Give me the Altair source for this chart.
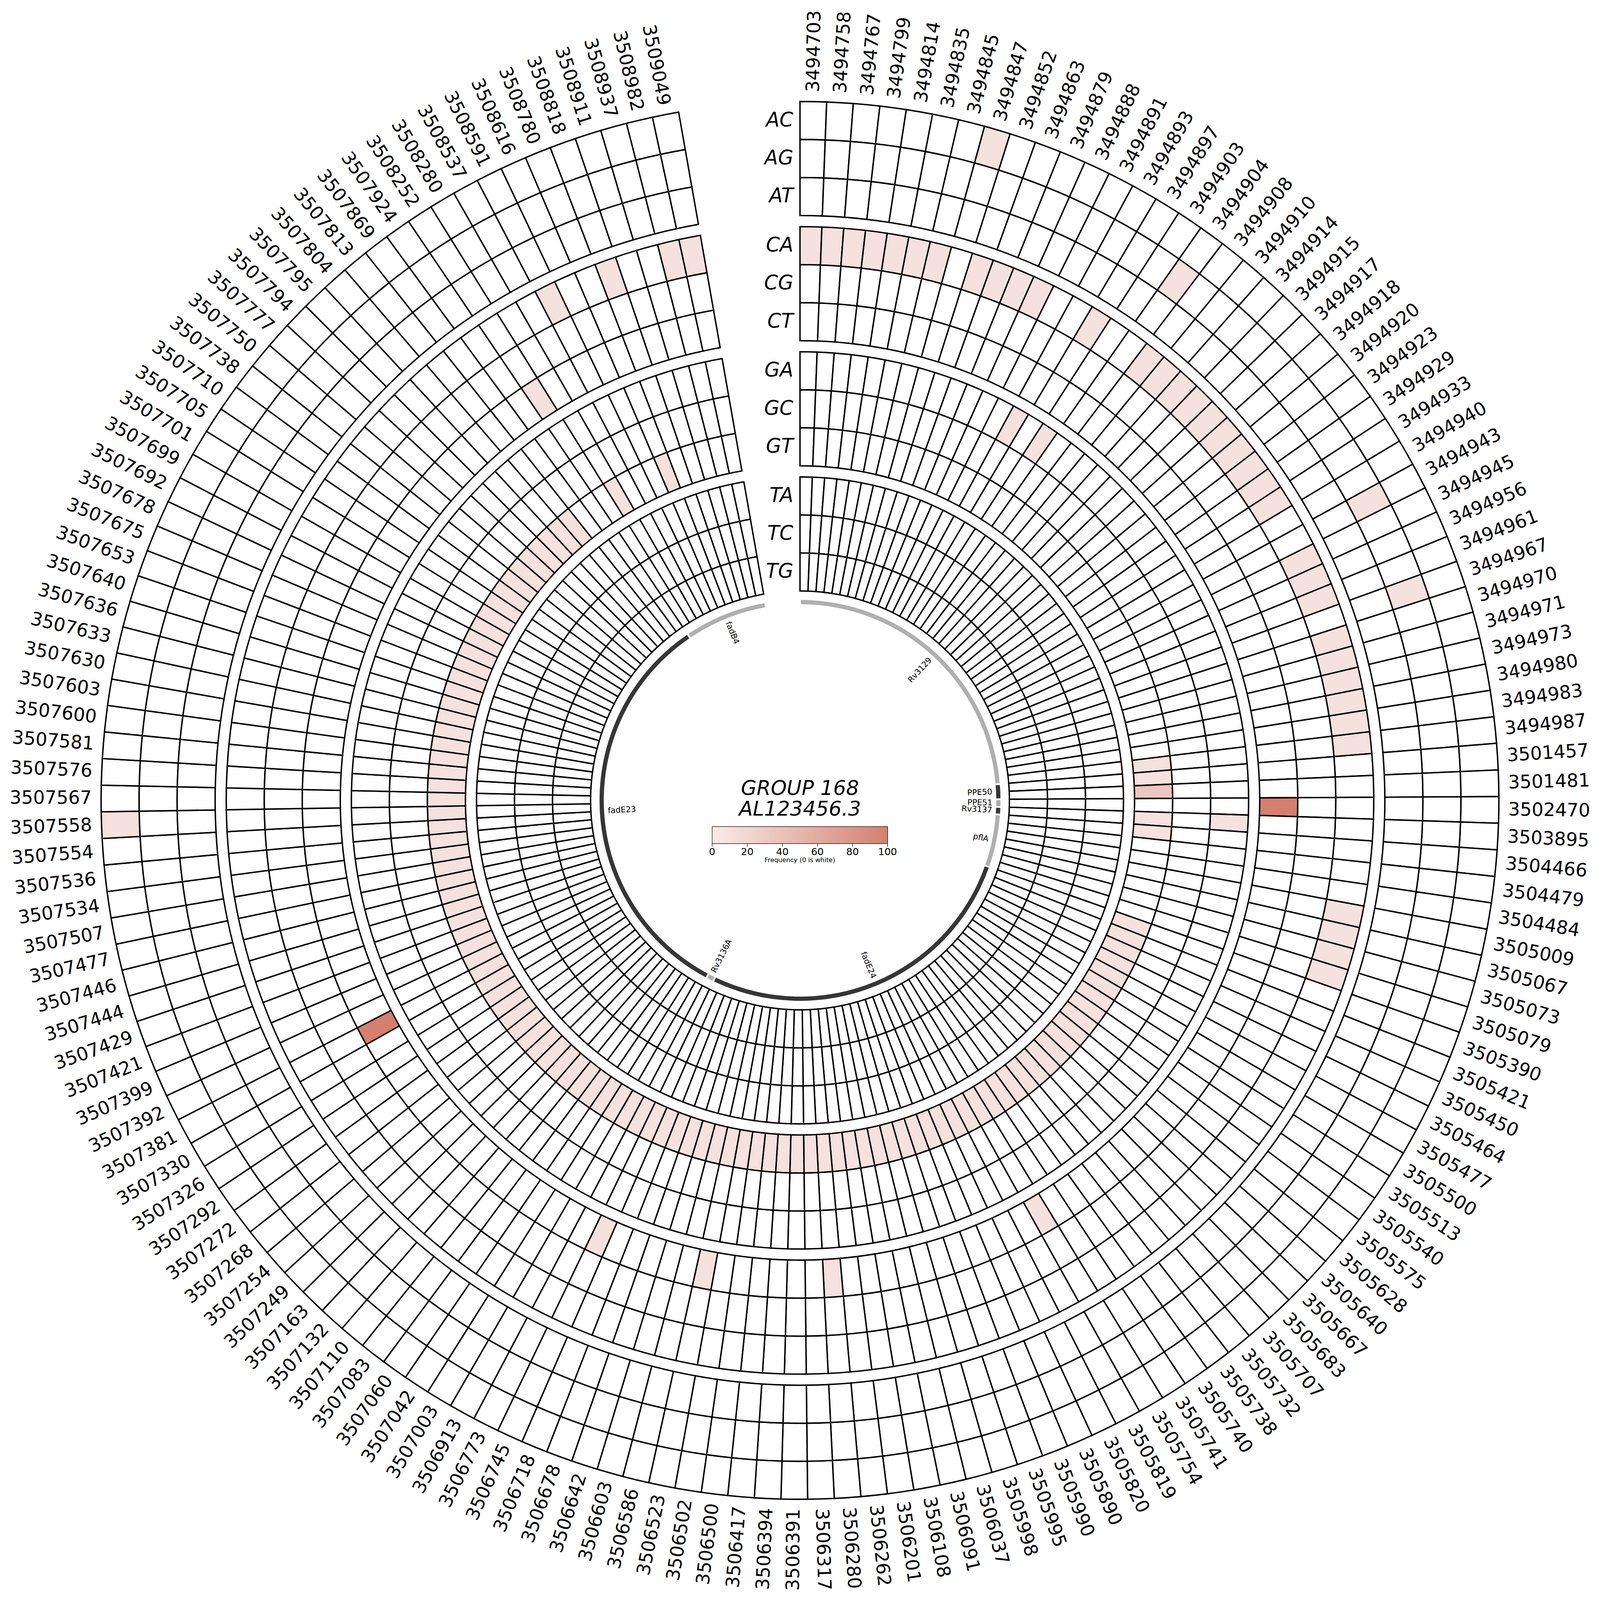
import math
import altair as alt
import pandas as pd

# ---------------- data ----------------
positions = [
    3494703, 3494758, 3494767, 3494799, 3494814, 3494835, 3494845, 3494847, 3494852, 3494863,
    3494879, 3494888, 3494891, 3494893, 3494897, 3494903, 3494904, 3494908, 3494910, 3494914,
    3494915, 3494917, 3494918, 3494920, 3494923, 3494929, 3494933, 3494940, 3494943, 3494945,
    3494956, 3494961, 3494967, 3494970, 3494971, 3494973, 3494980, 3494983, 3494987, 3501457,
    3501481, 3502470, 3503895, 3504466, 3504479, 3504484, 3505009, 3505067, 3505073, 3505079,
    3505390, 3505421, 3505450, 3505464, 3505477, 3505500, 3505513, 3505540, 3505575, 3505628,
    3505640, 3505667, 3505683, 3505707, 3505732, 3505738, 3505740, 3505741, 3505754, 3505819,
    3505820, 3505890, 3505990, 3505995, 3505998, 3506037, 3506091, 3506108, 3506201, 3506262,
    3506280, 3506317, 3506391, 3506394, 3506417, 3506500, 3506502, 3506523, 3506586, 3506603,
    3506642, 3506678, 3506718, 3506745, 3506773, 3506913, 3507003, 3507042, 3507060, 3507083,
    3507110, 3507132, 3507163, 3507249, 3507254, 3507268, 3507272, 3507292, 3507326, 3507330,
    3507381, 3507392, 3507399, 3507421, 3507429, 3507444, 3507446, 3507477, 3507507, 3507534,
    3507536, 3507554, 3507558, 3507567, 3507576, 3507581, 3507600, 3507603, 3507630, 3507633,
    3507636, 3507640, 3507653, 3507675, 3507678, 3507692, 3507699, 3507701, 3507705, 3507710,
    3507738, 3507750, 3507777, 3507794, 3507795, 3507804, 3507813, 3507869, 3507924, 3508252,
    3508280, 3508537, 3508591, 3508616, 3508780, 3508818, 3508911, 3508937, 3508982, 3509049,
]

rows = ["AC", "AG", "AT", "CA", "CG", "CT", "GA", "GC", "GT", "TA", "TC", "TG"]

# non-zero frequencies (column index into positions -> frequency %)
AC_cols = [7, 122]
AC_vals = [10, 10]
AG_cols = [16, 28, 32]
AG_vals = [10, 10, 10]
CA_cols = ([0, 1, 2, 3, 4, 5, 6, 8, 9, 10, 11, 14] + list(range(17, 27)) + [29, 30, 31]
           + list(range(33, 39)) + [46, 47, 48, 49, 152, 155, 158, 159])
CA_vals = [10] * len(CA_cols)
CT_cols = [41, 68, 80, 87, 93, 110, 149]
CT_vals = [100, 10, 10, 10, 10, 100, 10]
GA_cols = [13, 15, 42]
GA_vals = [10, 10, 10]
GT_cols = [38, 39, 40, 42, 43] + list(range(50, 147)) + [150, 154]
GT_vals = [10, 10, 35, 10, 10] + [10] * 97 + [10, 10]

nonzero = {
    "AC": (AC_cols, AC_vals), "AG": (AG_cols, AG_vals), "CA": (CA_cols, CA_vals),
    "CT": (CT_cols, CT_vals), "GA": (GA_cols, GA_vals), "GT": (GT_cols, GT_vals),
}

genes = ["Rv3129", "PPE50", "PPE51", "Rv3137", "pflA", "fadE24", "Rv3136A", "fadE23", "fadB4"]
gene_first = [0, 39, 41, 42, 43, 50, 94, 95, 149]
gene_last = [38, 40, 41, 42, 49, 93, 94, 148, 159]
gene_shade = ["light", "dark", "light", "dark", "light", "dark", "light", "dark", "light"]

cbar_ticks = [0, 20, 40, 60, 80, 100]

# ---------------- layout ----------------
N = len(positions)
SPAN_DEG = 350.0
SPAN_RAD = SPAN_DEG * math.pi / 180.0
W = 6750
C = W / 2
ROW_H = 161.0
RING_OUTER = {"A": 2960.0, "C": 2430.0, "G": 1900.0, "T": 1370.0}
LABEL_R = 3000.0
GENE_R0, GENE_R1 = 831.0, 849.0
GENE_LABEL_R = 815.0
GENE_PAD = 0.12
CELL_STROKE = 6
CBAR_X0, CBAR_X1 = 3003.0, 3746.0
SHIFT = 2207  # compensates the vertical offset observed in the rendered page

theta_scale = alt.Scale(domain=[0, N], range=[0, SPAN_RAD])
rad_scale = alt.Scale(type="linear", domain=[0, C], range=[0, C], zero=True)
px_scale = alt.Scale(domain=[0, W], range=[0, W], zero=False, nice=False)


def row_radii(name):
    j = [c for c in "ACGT" if c != name[0]].index(name[1])
    outer = RING_OUTER[name[0]] - j * ROW_H
    return outer - ROW_H, outer


cells = []
for rname in rows:
    r0, r1 = row_radii(rname)
    cols, vals = nonzero.get(rname, ([], []))
    fmap = dict(zip(cols, vals))
    for i in range(N):
        cells.append({"row": rname, "t0": i, "t1": i + 1, "r0": r0, "r1": r1,
                      "freq": fmap.get(i, 0)})
cells_df = pd.DataFrame(cells)


def text_angle(deg):
    return (deg - 90) % 360 if deg < 180 else (deg + 90) % 360


lab_df = pd.DataFrame([
    {"tc": i + 0.5, "rl": LABEL_R, "ang": text_angle((i + 0.5) * SPAN_DEG / N), "label": str(p),
     "side": "R" if (i + 0.5) * SPAN_DEG / N < 180 else "L"}
    for i, p in enumerate(positions)
])

gdf = []
for g, a, b, s in zip(genes, gene_first, gene_last, gene_shade):
    mid = (a + b + 1) / 2
    deg = mid * SPAN_DEG / N
    gdf.append({"gene": g, "g0": a + GENE_PAD, "g1": b + 1 - GENE_PAD, "r0": GENE_R0, "r1": GENE_R1,
                "shade": s, "tc": mid, "rl": GENE_LABEL_R, "ang": text_angle(deg),
                "side": "R" if deg < 180 else "L"})
gene_df = pd.DataFrame(gdf)

rowlab_df = pd.DataFrame([{"row": r, "tc": 0, "rl": sum(row_radii(r)) / 2} for r in rows])

polar_x = f"{C} + datum.rl * sin(datum.tc / {N} * {SPAN_RAD})"
polar_y = f"{C} - datum.rl * cos(datum.tc / {N} * {SPAN_RAD})"


def polar_text(df, **mark_kw):
    return alt.Chart(df).transform_calculate(px=polar_x, py=polar_y).mark_text(**mark_kw).encode(
        x=alt.X("px:Q", scale=px_scale, axis=None),
        y=alt.Y("py:Q", scale=px_scale, axis=None),
    )


# ---------------- layers ----------------
base_cells = alt.Chart(cells_df).mark_arc(stroke="black", strokeWidth=CELL_STROKE).encode(
    theta=alt.Theta("t0:Q", scale=theta_scale),
    theta2="t1:Q",
    radius=alt.Radius("r0:Q", scale=rad_scale),
    radius2="r1:Q",
    color=alt.when(alt.datum.freq > 0).then(
        alt.Color("freq:Q", scale=alt.Scale(domain=[0, 100], range=["#f8ecea", "#d5806e"],
                                            interpolate="rgb"), legend=None)
    ).otherwise(alt.value("white")),
)

gene_layers = []
for shade, col in [("light", "#afafaf"), ("dark", "#363636")]:
    gene_layers.append(
        alt.Chart(gene_df).transform_filter(alt.datum.shade == shade).mark_arc(color=col).encode(
            theta=alt.Theta("g0:Q", scale=theta_scale),
            theta2="g1:Q",
            radius=alt.Radius("r0:Q", scale=rad_scale),
            radius2="r1:Q",
        )
    )

label_layers = []
for side, align in [("R", "left"), ("L", "right")]:
    label_layers.append(
        polar_text(lab_df[lab_df.side == side], align=align, baseline="middle", fontSize=78,
                   font="DejaVu Sans", color="black").encode(
            angle=alt.Angle("ang:Q", scale=None), text="label:N")
    )

gene_label_layers = []
for side, align in [("R", "right"), ("L", "left")]:
    gene_label_layers.append(
        polar_text(gene_df[gene_df.side == side], align=align, baseline="middle", fontSize=34,
                   font="DejaVu Sans", color="black").encode(
            angle=alt.Angle("ang:Q", scale=None), text="gene:N")
    )

row_labels = polar_text(rowlab_df, align="right", baseline="middle", fontSize=84,
                        fontStyle="italic", font="DejaVu Sans", dx=-28).encode(text="row:N")

title_df = pd.DataFrame({"txt": ["GROUP 168", "AL123456.3"], "px": [C, C], "py": [3326, 3414]})
center_title = alt.Chart(title_df).mark_text(
    align="center", baseline="middle", fontSize=86, fontStyle="italic", font="DejaVu Sans"
).encode(
    x=alt.X("px:Q", scale=px_scale, axis=None),
    y=alt.Y("py:Q", scale=px_scale, axis=None),
    text="txt:N",
)

cbar_px = f"{CBAR_X0} + datum.v / 100 * {CBAR_X1 - CBAR_X0}"
gradient = alt.LinearGradient(
    gradient="linear",
    stops=[alt.GradientStop(offset=0, color="#f8ecea"), alt.GradientStop(offset=1, color="#d5806e")],
    x1=0, x2=1, y1=0, y2=0,
)
cbar = alt.Chart(pd.DataFrame({"v": [0], "v2": [100]})).transform_calculate(
    px=cbar_px, px2=f"{CBAR_X0} + datum.v2 / 100 * {CBAR_X1 - CBAR_X0}"
).mark_rect(fill=gradient, stroke="black", strokeWidth=2).encode(
    x=alt.X("px:Q", scale=px_scale, axis=None),
    x2="px2:Q",
    y=alt.value(3486),
    y2=alt.value(3558),
)
tick_df = pd.DataFrame({"v": cbar_ticks, "lbl": [str(t) for t in cbar_ticks]})
cbar_ticks_rule = alt.Chart(tick_df).transform_calculate(px=cbar_px).mark_rule(
    color="black", strokeWidth=2
).encode(
    x=alt.X("px:Q", scale=px_scale, axis=None),
    y=alt.value(3558),
    y2=alt.value(3571),
)
cbar_tick_text = alt.Chart(tick_df).transform_calculate(px=cbar_px).mark_text(
    align="center", baseline="top", fontSize=42, font="DejaVu Sans"
).encode(
    x=alt.X("px:Q", scale=px_scale, axis=None),
    y=alt.value(3573),
    text="lbl:N",
)
cbar_title = alt.Chart(pd.DataFrame({"v": [50], "t": ["Frequency (0 is white)"]})).transform_calculate(
    px=cbar_px
).mark_text(align="center", baseline="middle", fontSize=27, font="DejaVu Sans").encode(
    x=alt.X("px:Q", scale=px_scale, axis=None),
    y=alt.value(3628),
    text="t:N",
)

chart = alt.layer(
    base_cells, *gene_layers, *label_layers, *gene_label_layers, row_labels,
    center_title, cbar, cbar_ticks_rule, cbar_tick_text, cbar_title,
).properties(
    width=W, height=W,
    padding={"top": -SHIFT, "bottom": SHIFT, "left": 0, "right": 0},
    autosize=alt.AutoSizeParams(type="none"),
    background="white",
).configure_view(stroke=None)

chart.save("out.html", embed_options={"renderer": "svg", "actions": False})
